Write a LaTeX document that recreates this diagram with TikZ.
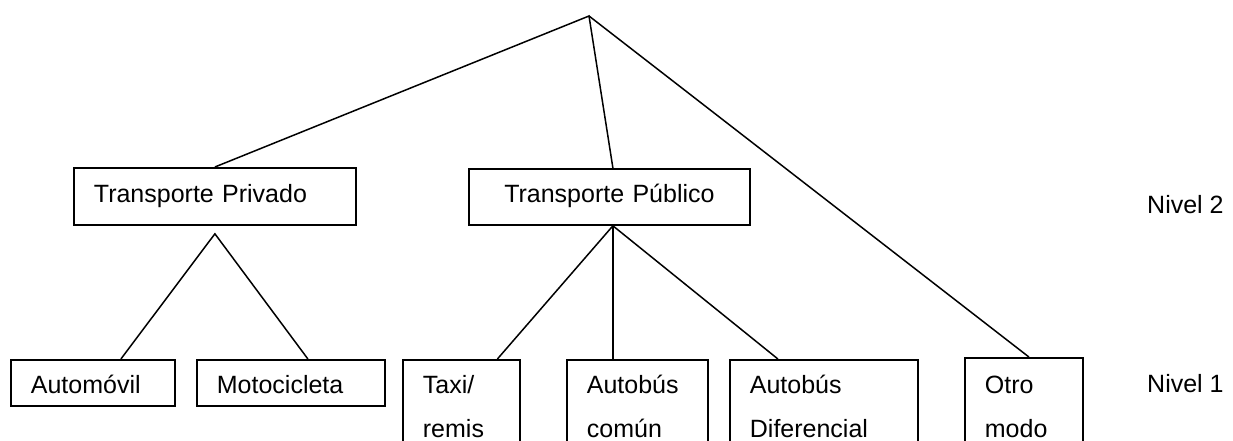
\documentclass[tikz,border=0pt]{standalone}
\usepackage{fontspec}
\setmainfont{Liberation Sans}

\begin{document}
\begin{tikzpicture}[x=1pt, y=-1pt,
    box/.style={draw, line width=1.8pt, anchor=north west, inner xsep=20pt, inner ysep=0pt,
                align=left, font=\fontsize{25}{44}\selectfont},
    link/.style={line width=1.5pt},
    level/.style={anchor=base west, inner sep=0pt, font=\fontsize{25}{30}\selectfont}]
    \useasboundingbox (0,0) rectangle (1233,441);
    \clip (0,0) rectangle (1233,441);
    \coordinate (top) at (589,16);
    % nivel 2
    \node[box, text width=242pt, text height=35pt, text depth=22pt] at (73,167) (priv) {Transporte Privado};
    \node[box, text width=241pt, text height=34pt, text depth=22pt, align=center] at (468,168) (pub) {Transporte P\'ublico};
    % nivel 1
    \node[box, text width=124pt, text height=34pt, text depth=12pt] at (10,359) (auto) {Autom\'ovil};
    \node[box, text width=148pt, text height=34pt, text depth=12pt] at (196,359) (moto) {Motocicleta};
    \node[box, text width=77pt, text height=34pt, text depth=100pt] at (402,359) (taxi) {Taxi/\\remis};
    \node[box, text width=101pt, text height=34pt, text depth=100pt] at (566,359) (comun) {Autob\'us\\com\'un};
    \node[box, text width=148pt, text height=34pt, text depth=100pt] at (729,359) (dif) {Autob\'us\\Diferencial};
    \node[box, text width=78pt, text height=36pt, text depth=100pt] at (964,357) (otro) {Otro\\modo};
    \node[level] at (1147,213) (n2) {Nivel 2};
    \node[level] at (1147,392) (n1) {Nivel 1};
    \coordinate (privfoot) at ([yshift=-8pt]priv.south);
    \coordinate (pubfoot) at ([xshift=3.5pt]pub.south);
    \draw[link] (priv.north) -- (top) -- ([xshift=3.5pt]pub.north);
    \draw[link] (top) -- ([xshift=5pt]otro.north);
    \draw[link] ([xshift=28pt]auto.north) -- (privfoot) -- ([xshift=17pt]moto.north);
    \draw[link] ([xshift=36pt]taxi.north) -- (pubfoot) -- ([xshift=-46pt]dif.north);
    \draw[link] (pubfoot) -- ([xshift=-24.5pt]comun.north);
\end{tikzpicture}
\end{document}
